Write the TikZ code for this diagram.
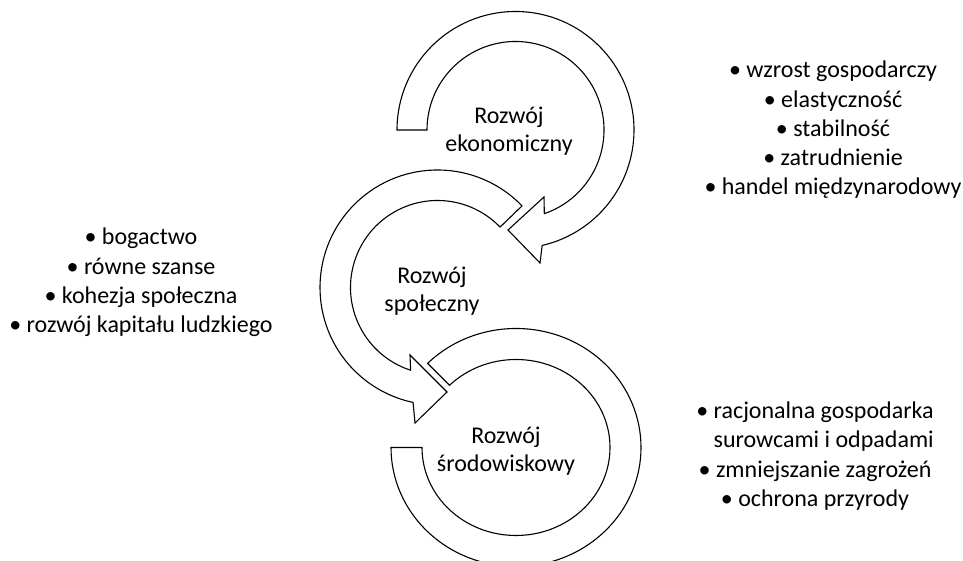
\documentclass[tikz,border=0pt]{standalone}
\usepackage{fontspec}
\setmainfont{Carlito}
\usetikzlibrary{calc}
\begin{document}
\begin{tikzpicture}[x=1pt,y=1pt,
  band/.style={draw=black, fill=white, line width=1.1pt, line join=miter},
  title/.style={font=\fontsize{24}{28.5}\selectfont, align=center, inner sep=0pt},
  list/.style={font=\fontsize{24}{29.3}\selectfont, align=center, inner sep=0pt}]
\useasboundingbox (0,0) rectangle (963,561);
\clip (0,0) rectangle (963,561);

% centres of the three circular arrows
\coordinate (c1) at (515.5,431);
\coordinate (c2) at (437.5,273.5);
\coordinate (c3) at (516,113.5);

% social arrow: counter-clockwise, head at lower right
\draw[band] ($(c2)+(44:117.5)$) arc[start angle=44, end angle=258, radius=117.5]
  -- (415,138) -- (447,169) -- (410,206)
  -- ($(c2)+(252:87)$) arc[start angle=252, end angle=44, radius=87] -- cycle;

% economic arrow: clockwise, head at lower right
\draw[band] ($(c1)+(180:118.5)$) arc[start angle=180, end angle=-77, radius=118.5]
  -- (540,298) -- (508,331) -- (544,364)
  -- ($(c1)+(-71:88.5)$) arc[start angle=-71, end angle=180, radius=88.5] -- cycle;

% environmental arrow: clockwise band ending flat on the left
\draw[band] ($(c3)+(135:125 and 119)$)
  arc[start angle=135, end angle=-180, x radius=125, y radius=119]
  -- ($(c3)+(180:94 and 88)$)
  arc[start angle=-180, end angle=135, x radius=94, y radius=88] -- cycle;

% titles inside the arrows
\node[title] (econ) at (509,430) {Rozwój\\ekonomiczny};
\node[title] (soc)  at (432,270) {Rozwój\\społeczny};
\node[title] (env)  at (506,110) {Rozwój\\środowiskowy};

% bullet lists
\node[list] (econlist) at (833,431) {• wzrost gospodarczy\\• elastyczność\\• stabilność\\• zatrudnienie\\• handel międzynarodowy};
\node[list] (soclist) at (141,278.5) {• bogactwo\\• równe szanse\\• kohezja społeczna\\• rozwój kapitału ludzkiego};
\node[list] (envlist) at (815,105) {• racjonalna gospodarka\\\phantom{• }surowcami i odpadami\\• zmniejszanie zagrożeń\\• ochrona przyrody};
\end{tikzpicture}
\end{document}
